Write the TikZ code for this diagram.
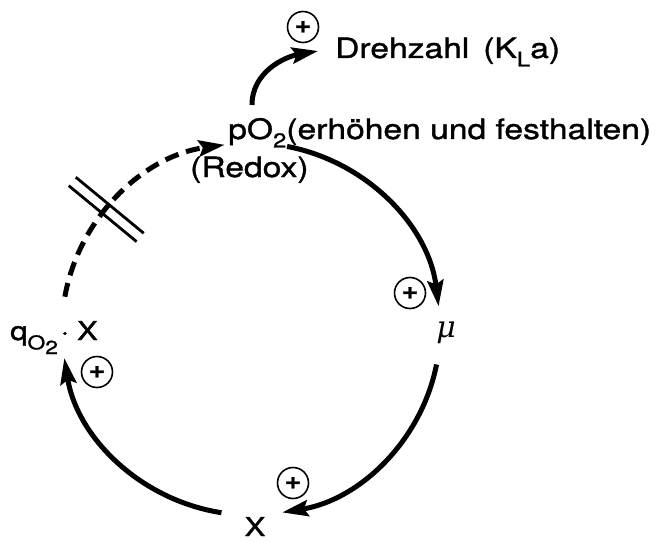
\documentclass[tikz,border=0pt]{standalone}
\usepackage{fontspec}
\setmainfont{TeX Gyre Heros}[FakeStretch=1.2, FakeBold=1.2]
\newfontfamily\mufont{DejaVu Serif}
\usetikzlibrary{arrows.meta}
\newcommand{\lowsub}[2][20]{\raisebox{-0.3em}{\fontsize{#1}{#1}\selectfont #2}}
\begin{document}
\begin{tikzpicture}[x=1pt,y=1pt,
  lbl/.style={inner sep=0pt, font=\fontsize{28}{32}\selectfont},
  lblsmall/.style={inner sep=0pt, font=\fontsize{26}{30}\selectfont},
  plus/.style={circle, draw, line width=1.6pt, minimum size=31pt, inner sep=0pt,
    font=\fontsize{24}{24}\selectfont\bfseries},
  flow/.style={line width=5pt, -{Stealth[length=26pt,width=16pt,inset=4pt]}},
  flowdash/.style={flow, dash pattern=on 14pt off 8pt},
  brkline/.style={line width=2.8pt}]
\useasboundingbox (0,0) rectangle (666,542);
\coordinate (c) at (251,213);
% text nodes
\node[lbl, anchor=base west] (dreh) at (335,484) {Drehzahl\hspace{0.5em}(K\lowsub{L}a)};
\node[lbl, anchor=base west] (po2) at (228,403) {pO\lowsub{2}(erhöhen und festhalten)};
\node[lbl, anchor=base west] (redox) at (190,365) {(Redox)};
\node[inner sep=0pt, font=\fontsize{30}{34}\selectfont\mufont\itshape] (mu) at (446,209) {μ};
\node[lblsmall, anchor=base] (xb) at (255,6) {X};
\node[lblsmall, anchor=base west] (qx) at (10,202) {q\raisebox{-0.36em}{\fontsize{19}{19}\selectfont O\raisebox{-0.25em}{2}}\hspace{0.1em}·\hspace{0.3em}X};
% plus signs
\node[plus] (p1) at (303,515) {+};
\node[plus] (p2) at (410,249) {+};
\node[plus] (p3) at (293,59) {+};
\node[plus] (p4) at (97,170) {+};
% connectors
\coordinate (dstart) at (252,437);
\coordinate (dend) at (318,491);
\draw[flow] (dstart) to[out=90,in=190] (dend);
\coordinate (a1) at ([shift={(170:189 and 186)}]c);
\coordinate (a2) at ([shift={(79:189 and 186)}]c);
\coordinate (a3) at ([shift={(-11:189 and 186)}]c);
\coordinate (a4) at ([shift={(-99:189 and 186)}]c);
\draw[flowdash] (a1) arc[start angle=170, end angle=98, x radius=189, y radius=186];
\draw[flow] (a2) arc[start angle=79, end angle=7, x radius=189, y radius=186];
\draw[flow] (a3) arc[start angle=-11, end angle=-80.5, x radius=189, y radius=186];
\draw[flow] (a4) arc[start angle=-99, end angle=-171, x radius=189, y radius=186];
% break mark
\coordinate (brk) at ([shift={(140:189 and 186)}]c);
\draw[brkline] ([shift={(140.5:44)}]brk) ++(50:5.5) -- ++(-39.5:88);
\draw[brkline] ([shift={(140.5:44)}]brk) ++(230:5.5) -- ++(-39.5:88);
\end{tikzpicture}
\end{document}
